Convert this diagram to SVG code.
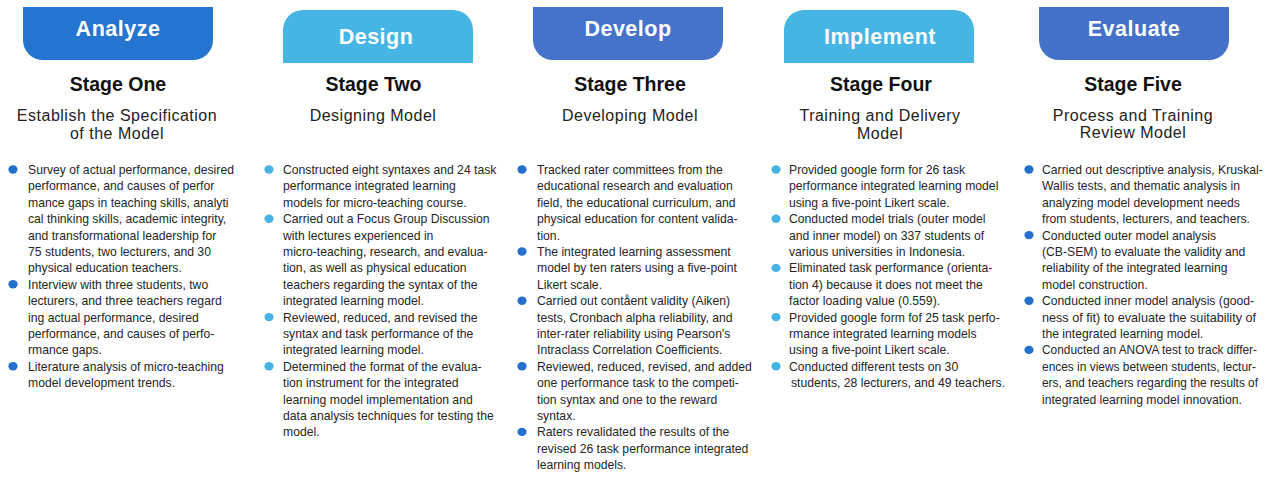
<svg xmlns="http://www.w3.org/2000/svg" width="1269" height="477" viewBox="0 0 1269 477">
  <style>
    .tab-text { font-family: "Liberation Sans", Arial, sans-serif; font-weight: bold; font-size: 21.5px; fill: #ffffff; text-anchor: middle; letter-spacing: 0.5px; }
    .stage { font-family: "Liberation Sans", Arial, sans-serif; font-weight: bold; font-size: 19.5px; fill: #111111; text-anchor: middle; }
    .sub { font-family: "Liberation Sans", Arial, sans-serif; font-size: 16px; fill: #222222; text-anchor: middle; letter-spacing: 0.5px; }
    .body { font-family: "Liberation Sans", Arial, sans-serif; font-size: 12.2px; fill: #262626; }
    .dark { fill: #2470CF; }
    .light { fill: #47B3E4; }
  </style>
  <defs>
    <!-- tab shapes: flat-top with rounded bottom, and rounded-top with flat bottom -->
    <path id="tabDown" d="M0,0 H190 V33 A20,20 0 0 1 170,53 H20 A20,20 0 0 1 0,33 Z"/>
    <path id="tabUp" d="M0,53 V20 A20,20 0 0 1 20,0 H170 A20,20 0 0 1 190,20 V53 Z"/>
  </defs>

  <rect width="1269" height="477" fill="#ffffff"/>

  <!-- Stage One -->
  <g id="stage-one">
    <use href="#tabDown" x="23" y="7" fill="#2474D0"/>
    <text class="tab-text" x="118" y="36">Analyze</text>
    <text class="stage" x="118" y="91">Stage One</text>
    <text class="sub" x="117" y="121">Establish the Specification</text>
    <text class="sub" x="117" y="139">of the Model</text>
    <g class="dark">
      <ellipse cx="13" cy="169.5" rx="4.6" ry="4.2"/>
      <ellipse cx="13" cy="284.3" rx="4.6" ry="4.2"/>
      <ellipse cx="13" cy="366.3" rx="4.6" ry="4.2"/>
    </g>
    <text class="body" y="174">
      <tspan x="28">Survey of actual performance, desired</tspan>
      <tspan x="28" dy="16.4">performance, and causes of perfor</tspan>
      <tspan x="28" dy="16.4">mance gaps in teaching skills, analyti</tspan>
      <tspan x="28" dy="16.4">cal thinking skills, academic integrity,</tspan>
      <tspan x="28" dy="16.4">and transformational leadership for</tspan>
      <tspan x="28" dy="16.4">75 students, two lecturers, and 30</tspan>
      <tspan x="28" dy="16.4">physical education teachers.</tspan>
      <tspan x="28" dy="16.4">Interview with three students, two</tspan>
      <tspan x="28" dy="16.4">lecturers, and three teachers regard</tspan>
      <tspan x="28" dy="16.4">ing actual performance, desired</tspan>
      <tspan x="28" dy="16.4">performance, and causes of perfo-</tspan>
      <tspan x="28" dy="16.4">rmance gaps.</tspan>
      <tspan x="28" dy="16.4">Literature analysis of micro-teaching</tspan>
      <tspan x="28" dy="16.4">model development trends.</tspan>
    </text>
  </g>

  <!-- Stage Two -->
  <g id="stage-two">
    <use href="#tabUp" x="283" y="10" fill="#47B5E3"/>
    <text class="tab-text" x="376" y="44">Design</text>
    <text class="stage" x="373.5" y="91">Stage Two</text>
    <text class="sub" x="373" y="121">Designing Model</text>
    <g class="light">
      <ellipse cx="269" cy="169.5" rx="4.6" ry="4.2"/>
      <ellipse cx="269" cy="218.7" rx="4.6" ry="4.2"/>
      <ellipse cx="269" cy="317.1" rx="4.6" ry="4.2"/>
      <ellipse cx="269" cy="366.3" rx="4.6" ry="4.2"/>
    </g>
    <text class="body" y="174">
      <tspan x="283">Constructed eight syntaxes and 24 task</tspan>
      <tspan x="283" dy="16.4">performance integrated learning</tspan>
      <tspan x="283" dy="16.4">models for micro-teaching course.</tspan>
      <tspan x="283" dy="16.4">Carried out a Focus Group Discussion</tspan>
      <tspan x="283" dy="16.4">with lectures experienced in</tspan>
      <tspan x="283" dy="16.4">micro-teaching, research, and evalua-</tspan>
      <tspan x="283" dy="16.4">tion, as well as physical education</tspan>
      <tspan x="283" dy="16.4">teachers regarding the syntax of the</tspan>
      <tspan x="283" dy="16.4">integrated learning model.</tspan>
      <tspan x="283" dy="16.4">Reviewed, reduced, and revised the</tspan>
      <tspan x="283" dy="16.4">syntax and task performance of the</tspan>
      <tspan x="283" dy="16.4">integrated learning model.</tspan>
      <tspan x="283" dy="16.4">Determined the format of the evalua-</tspan>
      <tspan x="283" dy="16.4">tion instrument for the integrated</tspan>
      <tspan x="283" dy="16.4">learning model implementation and</tspan>
      <tspan x="283" dy="16.4">data analysis techniques for testing the</tspan>
      <tspan x="283" dy="16.4">model.</tspan>
    </text>
  </g>

  <!-- Stage Three -->
  <g id="stage-three">
    <use href="#tabDown" x="533" y="7" fill="#4473C9"/>
    <text class="tab-text" x="628" y="36">Develop</text>
    <text class="stage" x="630" y="91">Stage Three</text>
    <text class="sub" x="630" y="121">Developing Model</text>
    <g class="dark">
      <ellipse cx="522" cy="169.5" rx="4.6" ry="4.2"/>
      <ellipse cx="522" cy="251.5" rx="4.6" ry="4.2"/>
      <ellipse cx="522" cy="300.7" rx="4.6" ry="4.2"/>
      <ellipse cx="522" cy="366.3" rx="4.6" ry="4.2"/>
      <ellipse cx="522" cy="431.9" rx="4.6" ry="4.2"/>
    </g>
    <text class="body" y="174">
      <tspan x="537">Tracked rater committees from the</tspan>
      <tspan x="537" dy="16.4">educational research and evaluation</tspan>
      <tspan x="537" dy="16.4">field, the educational curriculum, and</tspan>
      <tspan x="537" dy="16.4">physical education for content valida-</tspan>
      <tspan x="537" dy="16.4">tion.</tspan>
      <tspan x="537" dy="16.4">The integrated learning assessment</tspan>
      <tspan x="537" dy="16.4">model by ten raters using a five-point</tspan>
      <tspan x="537" dy="16.4">Likert scale.</tspan>
      <tspan x="537" dy="16.4">Carried out contåent validity (Aiken)</tspan>
      <tspan x="537" dy="16.4">tests, Cronbach alpha reliability, and</tspan>
      <tspan x="537" dy="16.4">inter-rater reliability using Pearson's</tspan>
      <tspan x="537" dy="16.4">Intraclass Correlation Coefficients.</tspan>
      <tspan x="537" dy="16.4">Reviewed, reduced, revised, and added</tspan>
      <tspan x="537" dy="16.4">one performance task to the competi-</tspan>
      <tspan x="537" dy="16.4">tion syntax and one to the reward</tspan>
      <tspan x="537" dy="16.4">syntax.</tspan>
      <tspan x="537" dy="16.4">Raters revalidated the results of the</tspan>
      <tspan x="537" dy="16.4">revised 26 task performance integrated</tspan>
      <tspan x="537" dy="16.4">learning models.</tspan>
    </text>
  </g>

  <!-- Stage Four -->
  <g id="stage-four">
    <use href="#tabUp" x="784" y="10" fill="#47B5E3"/>
    <text class="tab-text" x="880" y="44">Implement</text>
    <text class="stage" x="881" y="91">Stage Four</text>
    <text class="sub" x="880" y="121">Training and Delivery</text>
    <text class="sub" x="880" y="139">Model</text>
    <g class="light">
      <ellipse cx="776" cy="169.5" rx="4.6" ry="4.2"/>
      <ellipse cx="776" cy="218.7" rx="4.6" ry="4.2"/>
      <ellipse cx="776" cy="267.9" rx="4.6" ry="4.2"/>
      <ellipse cx="776" cy="317.1" rx="4.6" ry="4.2"/>
      <ellipse cx="776" cy="366.3" rx="4.6" ry="4.2"/>
    </g>
    <text class="body" y="174">
      <tspan x="789">Provided google form for 26 task</tspan>
      <tspan x="789" dy="16.4">performance integrated learning model</tspan>
      <tspan x="789" dy="16.4">using a five-point Likert scale.</tspan>
      <tspan x="789" dy="16.4">Conducted model trials (outer model</tspan>
      <tspan x="789" dy="16.4">and inner model) on 337 students of</tspan>
      <tspan x="789" dy="16.4">various universities in Indonesia.</tspan>
      <tspan x="789" dy="16.4">Eliminated task performance (orienta-</tspan>
      <tspan x="789" dy="16.4">tion 4) because it does not meet the</tspan>
      <tspan x="789" dy="16.4">factor loading value (0.559).</tspan>
      <tspan x="789" dy="16.4">Provided google form fof 25 task perfo-</tspan>
      <tspan x="789" dy="16.4">rmance integrated learning models</tspan>
      <tspan x="789" dy="16.4">using a five-point Likert scale.</tspan>
      <tspan x="789" dy="16.4">Conducted different tests on 30</tspan>
      <tspan x="791" dy="16.4">students, 28 lecturers, and 49 teachers.</tspan>
    </text>
  </g>

  <!-- Stage Five -->
  <g id="stage-five">
    <use href="#tabDown" x="1039" y="7" fill="#4472C8"/>
    <text class="tab-text" x="1134" y="36">Evaluate</text>
    <text class="stage" x="1133" y="91">Stage Five</text>
    <text class="sub" x="1133" y="121">Process and Training</text>
    <text class="sub" x="1133" y="138">Review Model</text>
    <g class="dark">
      <ellipse cx="1029" cy="169.5" rx="4.6" ry="4.2"/>
      <ellipse cx="1029" cy="235.1" rx="4.6" ry="4.2"/>
      <ellipse cx="1029" cy="300.7" rx="4.6" ry="4.2"/>
      <ellipse cx="1029" cy="349.9" rx="4.6" ry="4.2"/>
    </g>
    <text class="body" y="174">
      <tspan x="1042">Carried out descriptive analysis, Kruskal-</tspan>
      <tspan x="1042" dy="16.4">Wallis tests, and thematic analysis in</tspan>
      <tspan x="1042" dy="16.4">analyzing model development needs</tspan>
      <tspan x="1042" dy="16.4">from students, lecturers, and teachers.</tspan>
      <tspan x="1042" dy="16.4">Conducted outer model analysis</tspan>
      <tspan x="1042" dy="16.4">(CB-SEM) to evaluate the validity and</tspan>
      <tspan x="1042" dy="16.4">reliability of the integrated learning</tspan>
      <tspan x="1042" dy="16.4">model construction.</tspan>
      <tspan x="1042" dy="16.4">Conducted inner model analysis (good-</tspan>
      <tspan x="1042" dy="16.4" textLength="214" lengthAdjust="spacingAndGlyphs">ness of fit) to evaluate the suitability of</tspan>
      <tspan x="1042" dy="16.4">the integrated learning model.</tspan>
      <tspan x="1042" dy="16.4" textLength="215" lengthAdjust="spacingAndGlyphs">Conducted an ANOVA test to track differ-</tspan>
      <tspan x="1042" dy="16.4" textLength="214" lengthAdjust="spacingAndGlyphs">ences in views between students, lectur-</tspan>
      <tspan x="1042" dy="16.4" textLength="216" lengthAdjust="spacingAndGlyphs">ers, and teachers regarding the results of</tspan>
      <tspan x="1042" dy="16.4">integrated learning model innovation.</tspan>
    </text>
  </g>
</svg>
